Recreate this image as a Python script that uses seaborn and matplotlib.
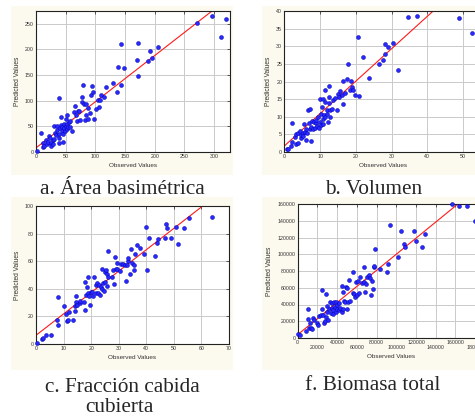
import numpy as np
import pandas as pd
import matplotlib
matplotlib.use("Agg")
import matplotlib.pyplot as plt
from matplotlib.patches import Rectangle
import seaborn as sns

# ---------------- data ----------------
area_obs = [2, 8, 11, 12, 14, 17, 18, 21, 22, 24, 25, 26, 28, 29, 30, 31, 32, 34, 35, 36,
            38, 38, 39, 39, 40, 42, 42, 43, 44, 45, 46, 47, 48, 49, 50, 51, 52, 53, 53, 54,
            56, 57, 58, 60, 64, 66, 67, 69, 70, 73, 74, 77, 78, 80, 81, 83, 84, 85, 87, 88,
            91, 92, 94, 96, 97, 101, 105, 107, 108, 110, 115, 118, 129, 136, 139, 143, 144,
            148, 170, 172, 172, 188, 192, 195, 205, 272, 297, 312, 320]
area_pred = [2, 38, 18, 10, 12, 24, 15, 20, 31, 28, 18, 11, 23, 15, 50, 26, 37, 33, 42, 50,
             105, 36, 28, 18, 46, 52, 68, 41, 49, 36, 20, 46, 55, 40, 65, 50, 44, 55, 72, 49,
             59, 48, 61, 41, 78, 89, 72, 61, 80, 80, 62, 107, 98, 130, 94, 62, 94, 72, 65, 85,
             76, 111, 128, 117, 65, 83, 101, 88, 102, 111, 108, 126, 135, 117, 165, 211, 130,
             163, 180, 148, 212, 178, 197, 184, 205, 252, 265, 225, 259]

vol_obs = [0.7, 0.9, 1.9, 2.2, 2.2, 3.0, 3.3, 3.4, 3.7, 3.9, 4.4, 4.6, 4.8, 5.1, 5.3, 5.6,
           5.8, 6.1, 6.2, 6.4, 6.5, 6.9, 7.2, 7.2, 7.4, 7.6, 7.8, 7.9, 8.3, 8.6, 8.8, 9.0,
           9.2, 9.5, 9.7, 10.0, 10.1, 10.2, 10.4, 10.6, 10.7, 10.9, 10.9, 11.2, 11.4, 11.4,
           11.5, 11.8, 12.0, 12.3, 12.4, 12.5, 12.6, 12.8, 12.9, 13.2, 13.7, 14.2, 14.6,
           14.9, 15.4, 15.5, 16.0, 16.3, 16.5, 16.9, 17.4, 17.9, 18.3, 18.6, 18.8, 19.3,
           19.7, 20.5, 20.9, 22.1, 23.7, 26.5, 27.7, 28.1, 28.1, 29.1, 30.4, 31.8, 34.6,
           37.2, 48.9, 52.6]
vol_pred = [0.8, 0.9, 1.6, 2.8, 8.1, 4.3, 2.4, 5.0, 2.6, 5.4, 6.0, 4.1, 4.7, 5.4, 4.5, 7.9,
            5.7, 6.6, 3.5, 5.4, 12.0, 8.2, 12.1, 6.6, 3.1, 7.1, 8.8, 6.4, 8.5, 6.9, 8.1, 9.2,
            7.3, 10.0, 6.9, 8.5, 14.9, 7.6, 10.7, 12.8, 9.5, 15.1, 7.9, 10.4, 17.5, 9.8,
            14.2, 11.8, 10.9, 8.5, 15.6, 18.7, 13.9, 11.8, 10.0, 12.3, 14.7, 15.2, 12.0,
            16.4, 15.6, 17.3, 16.1, 13.7, 20.2, 16.8, 20.7, 24.9, 17.7, 20.2, 18.3, 17.7,
            16.1, 32.5, 15.8, 27.0, 21.1, 25.1, 26.1, 30.5, 27.8, 29.7, 30.8, 23.4, 38.2,
            38.7, 37.9, 33.9]

fcc_obs = [0.2, 2.3, 2.7, 3.7, 5.4, 7.6, 7.8, 7.9, 10.2, 11.0, 11.2, 11.6, 11.8, 13.4, 14.0,
           14.3, 14.6, 14.6, 14.9, 15.9, 16.1, 17.3, 17.7, 17.9, 18.3, 18.5, 18.8, 18.9,
           19.4, 19.5, 20.0, 20.4, 20.7, 21.0, 21.6, 21.6, 22.0, 22.4, 23.0, 23.2, 23.4,
           23.8, 24.0, 24.3, 24.6, 25.0, 25.2, 25.5, 25.6, 25.9, 26.1, 26.2, 27.7, 28.0,
           28.3, 28.5, 28.9, 29.3, 29.5, 30.5, 31.0, 31.7, 32.3, 32.6, 32.9, 33.2, 33.5,
           34.1, 34.4, 34.8, 35.4, 35.6, 35.9, 36.6, 37.8, 39.3, 39.9, 40.1, 41.1, 43.2,
           43.8, 44.1, 46.8, 47.2, 47.6, 48.8, 50.9, 51.5, 53.5, 55.5, 63.9]
fcc_pred = [0.7, 3.9, 4.4, 6.8, 6.8, 17.2, 14.0, 33.9, 27.4, 21.8, 17.0, 17.7, 23.2, 17.7,
            27.4, 23.7, 34.6, 30.5, 28.6, 29.8, 31.5, 30.5, 44.8, 24.9, 35.8, 41.2, 37.0,
            48.7, 34.6, 28.1, 37.8, 37.8, 34.6, 48.7, 42.6, 37.0, 44.3, 37.0, 43.1, 35.8,
            41.2, 39.5, 54.7, 44.3, 38.7, 52.3, 45.0, 53.3, 41.9, 50.8, 67.3, 48.4, 48.7,
            53.3, 43.6, 63.2, 54.7, 58.8, 54.0, 52.8, 58.1, 58.1, 57.6, 45.5, 57.1, 60.0,
            62.5, 50.8, 69.2, 58.8, 53.3, 57.6, 64.9, 71.4, 69.7, 65.4, 84.7, 53.3, 76.5,
            63.7, 72.9, 76.3, 77.0, 87.2, 84.3, 77.0, 85.0, 72.6, 84.3, 91.5, 92.3]

bio_obs = [0.7, 2.4, 8.5, 10.2, 10.8, 11.9, 12.5, 13.6, 14.9, 15.9, 16.6, 19.3, 21.0, 21.7,
           23.7, 24.4, 25.1, 26.1, 27.1, 27.8, 28.5, 28.8, 29.5, 30.2, 31.2, 32.2, 32.9,
           33.6, 34.6, 35.3, 35.6, 36.3, 36.9, 38.0, 38.6, 39.0, 39.7, 40.3, 41.4, 42.4,
           43.1, 44.7, 45.4, 45.8, 46.4, 47.1, 48.1, 49.2, 49.8, 50.5, 51.5, 52.5, 53.2,
           56.6, 55.9, 57.6, 58.3, 59.3, 60.0, 61.0, 61.7, 62.7, 65.1, 66.8, 67.5, 68.5,
           69.5, 70.2, 71.9, 73.6, 74.6, 75.3, 75.9, 76.9, 77.6, 78.6, 83.1, 90.5, 91.5,
           93.2, 101.7, 105.1, 107.5, 109.2, 117.6, 120.0, 126.1, 129.5, 156.6, 164.1,
           171.9, 179.7]
bio_pred = [5.2, 4.0, 8.0, 34.4, 22.4, 12.0, 18.4, 12.0, 11.2, 24.0, 21.2, 18.4, 16.0, 26.4,
            28.0, 57.2, 34.4, 27.2, 18.0, 20.0, 52.0, 25.2, 31.2, 38.4, 21.2, 34.4, 42.4,
            30.4, 36.0, 41.2, 29.2, 33.2, 42.4, 37.2, 31.2, 42.4, 34.4, 39.2, 33.2, 41.2,
            36.0, 31.2, 62.4, 35.2, 55.2, 44.0, 42.4, 61.2, 59.2, 34.4, 42.4, 69.2, 44.0,
            78.4, 53.2, 52.0, 49.2, 66.4, 51.2, 68.4, 53.2, 73.2, 65.2, 66.4, 85.2, 55.2,
            64.0, 73.2, 75.2, 71.2, 51.2, 68.0, 58.4, 85.2, 86.4, 106.4, 82.4, 78.4, 88.0,
            135.2, 97.2, 128.0, 112.0, 108.4, 128.0, 116.4, 108.4, 124.4, 160.0, 158.0,
            158.0, 140.0]
bio_obs = [v * 1000 for v in bio_obs]
bio_pred = [v * 1000 for v in bio_pred]

# fitted lines (intercept, slope)
area_fit = (8.0, 0.90)
vol_fit = (1.7, 0.92)
fcc_fit = (6.3, 1.55)
bio_fit = (4000.0, 0.96)

captions = ["a. Área basimétrica", "b. Volumen", "c. Fracción cabida", "cubierta", "f. Biomasa total"]

# ---------------- style ----------------
sns.set_style("white")
plt.rcParams["font.family"] = ["Liberation Sans", "DejaVu Sans"]

W, H = 475, 417
fig = plt.figure(figsize=(W / 100, H / 100), dpi=100)
fig.patch.set_facecolor("white")

CREAM = "#FCF9EE"

def rect(l, t, r, b):
    return [l / W, 1 - b / H, (r - l) / W, (b - t) / H]

# cream panel backgrounds (behind the axes)
for (l, t, r, b) in [(11, 6, 233, 175), (262, 6, 475, 175), (11, 197, 233, 370), (262, 197, 475, 370)]:
    fig.patches.append(Rectangle((l / W, 1 - b / H), (r - l) / W, (b - t) / H,
                                 transform=fig.transFigure, facecolor=CREAM,
                                 edgecolor="none", zorder=-5))

panels = [
    dict(obs=area_obs, pred=area_pred, fit=area_fit, box=(36, 11, 230, 152),
         xlim=(0, 327), ylim=(0, 275), xt=np.arange(0, 301, 50), yt=np.arange(0, 251, 50)),
    dict(obs=vol_obs, pred=vol_pred, fit=vol_fit, box=(284.3, 11, 481, 152),
         xlim=(0, 55), ylim=(0, 40), xt=np.arange(0, 51, 10), yt=np.arange(0, 41, 5)),
    dict(obs=fcc_obs, pred=fcc_pred, fit=fcc_fit, box=(36, 206, 229, 344),
         xlim=(0, 70), ylim=(0, 100), xt=np.arange(0, 71, 10), yt=np.arange(0, 101, 20)),
    dict(obs=bio_obs, pred=bio_pred, fit=bio_fit, box=(297.7, 204, 485, 338),
         xlim=(0, 190000), ylim=(0, 160000), xt=np.arange(0, 180001, 20000),
         yt=np.arange(0, 160001, 20000)),
]

for i, p in enumerate(panels):
    ax = fig.add_axes(rect(*p["box"]))
    ax.set_facecolor("white")
    ax.set_xlim(*p["xlim"])
    ax.set_ylim(*p["ylim"])
    ax.set_xticks(p["xt"])
    ax.set_yticks(p["yt"])
    ax.grid(True, color="#CACACA", linewidth=0.7, zorder=0)
    ax.set_axisbelow(True)

    b0, b1 = p["fit"]
    lx = [p["xlim"][0], p["xlim"][1]]
    line_df = pd.DataFrame({"x": lx, "y": [b0 + b1 * v for v in lx]})
    sns.lineplot(data=line_df, x="x", y="y", ax=ax, color="#FF1A1A", linewidth=0.8, zorder=2)

    df = pd.DataFrame({"obs": p["obs"], "pred": p["pred"]})
    sns.scatterplot(data=df, x="obs", y="pred", ax=ax, s=8, color="#2828FF",
                    edgecolor="#0000B0", linewidth=0.35, zorder=3, clip_on=False)

    ax.set_xlim(*p["xlim"])
    ax.set_ylim(*p["ylim"])

    for s in ax.spines.values():
        s.set_color("#222222")
        s.set_linewidth(0.8)
    ax.tick_params(direction="in", top=True, right=True, length=2, width=0.5,
                   labelsize=3.8, pad=1.5, colors="#222222", labelcolor="#333333")

    if i == 3:
        labs = []
        for k, v in enumerate(p["xt"]):
            txt = str(int(v))
            labs.append(txt if k % 2 == 0 else "\n" + txt)
        ax.set_xticklabels(labs, linespacing=1.0)

    ax.set_xlabel("Observed Values", fontsize=4.6, color="#333333", labelpad=2.5)
    ax.set_ylabel("Predicted Values", fontsize=4.8, color="#333333", labelpad=3)

# captions
serif = ["Liberation Serif", "DejaVu Serif"]
CAP = 15.3
fig.text(122 / W, 1 - 189 / H, captions[0], ha="center", va="center", fontsize=CAP, family=serif)
fig.text(374 / W, 1 - 189 / H, captions[1], ha="center", va="center", fontsize=CAP, family=serif)
fig.text(122 / W, 1 - 387 / H, captions[2], ha="center", va="center", fontsize=CAP, family=serif)
fig.text(119 / W, 1 - 407 / H, captions[3], ha="center", va="center", fontsize=CAP, family=serif)
fig.text(373 / W, 1 - 386 / H, captions[4], ha="center", va="center", fontsize=CAP, family=serif)

fig.savefig("out.png", dpi=100, facecolor="white")
